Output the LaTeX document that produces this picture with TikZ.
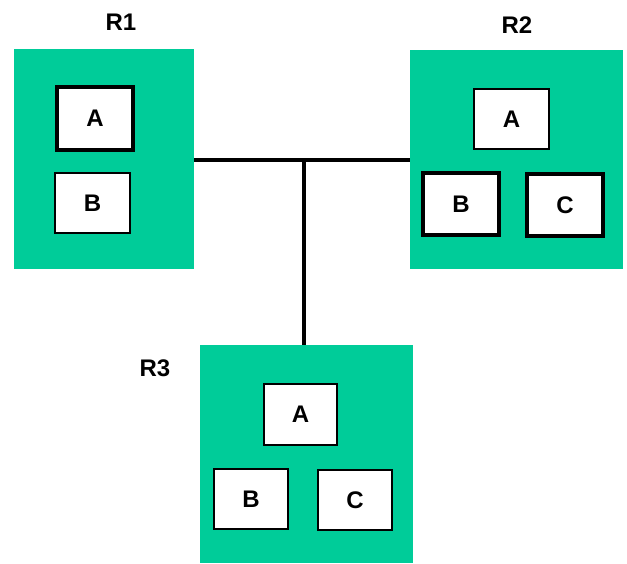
\documentclass[tikz,border=0pt]{standalone}
\usepackage{fontspec}
\setmainfont{Liberation Sans}
\definecolor{roomgreen}{RGB}{0,204,153}
\begin{document}
\begin{tikzpicture}[x=1pt,y=-1pt,
    room/.style = {fill=roomgreen, draw=none, inner sep=0pt, anchor=north west},
    item/.style = {fill=white, draw=black, line width=2pt, inner sep=0pt,
                   font=\fontsize{24}{24}\selectfont\bfseries},
    held/.style = {item, line width=4pt},
    tag/.style  = {font=\fontsize{24}{24}\selectfont\bfseries}]
    \useasboundingbox (0,0) rectangle (627,563);
    % rooms
    \node[room, minimum width=180pt, minimum height=220pt] (r1) at (14,49) {};
    \node[room, minimum width=213pt, minimum height=219pt] (r2) at (410,50) {};
    \node[room, minimum width=213pt, minimum height=218pt] (r3) at (200,345) {};
    \node[tag] (t1) at (121,22) {R1};
    \node[tag] (t2) at (517,25) {R2};
    \node[tag] (t3) at (155,368) {R3};
    % boxes in R1
    \node[held, minimum width=76pt, minimum height=63pt] (r1a) at (95,118.5) {A};
    \node[item, minimum width=75pt, minimum height=60pt] (r1b) at (92.5,203) {B};
    % boxes in R2
    \node[item, minimum width=75pt, minimum height=60pt] (r2a) at (511.5,119) {A};
    \node[held, minimum width=76pt, minimum height=62pt] (r2b) at (461,204) {B};
    \node[held, minimum width=76pt, minimum height=62pt] (r2c) at (565,205) {C};
    % boxes in R3
    \node[item, minimum width=73pt, minimum height=61pt] (r3a) at (300.5,414.5) {A};
    \node[item, minimum width=74pt, minimum height=60pt] (r3b) at (251,499) {B};
    \node[item, minimum width=74pt, minimum height=60pt] (r3c) at (355,500) {C};
    % wiring
    \coordinate (joint) at (304,159.5);
    \draw[line width=4pt] (r1.east |- joint) -- (r2.west |- joint);
    \draw[line width=4pt] (joint) -- (joint |- r3.north);
\end{tikzpicture}
\end{document}
